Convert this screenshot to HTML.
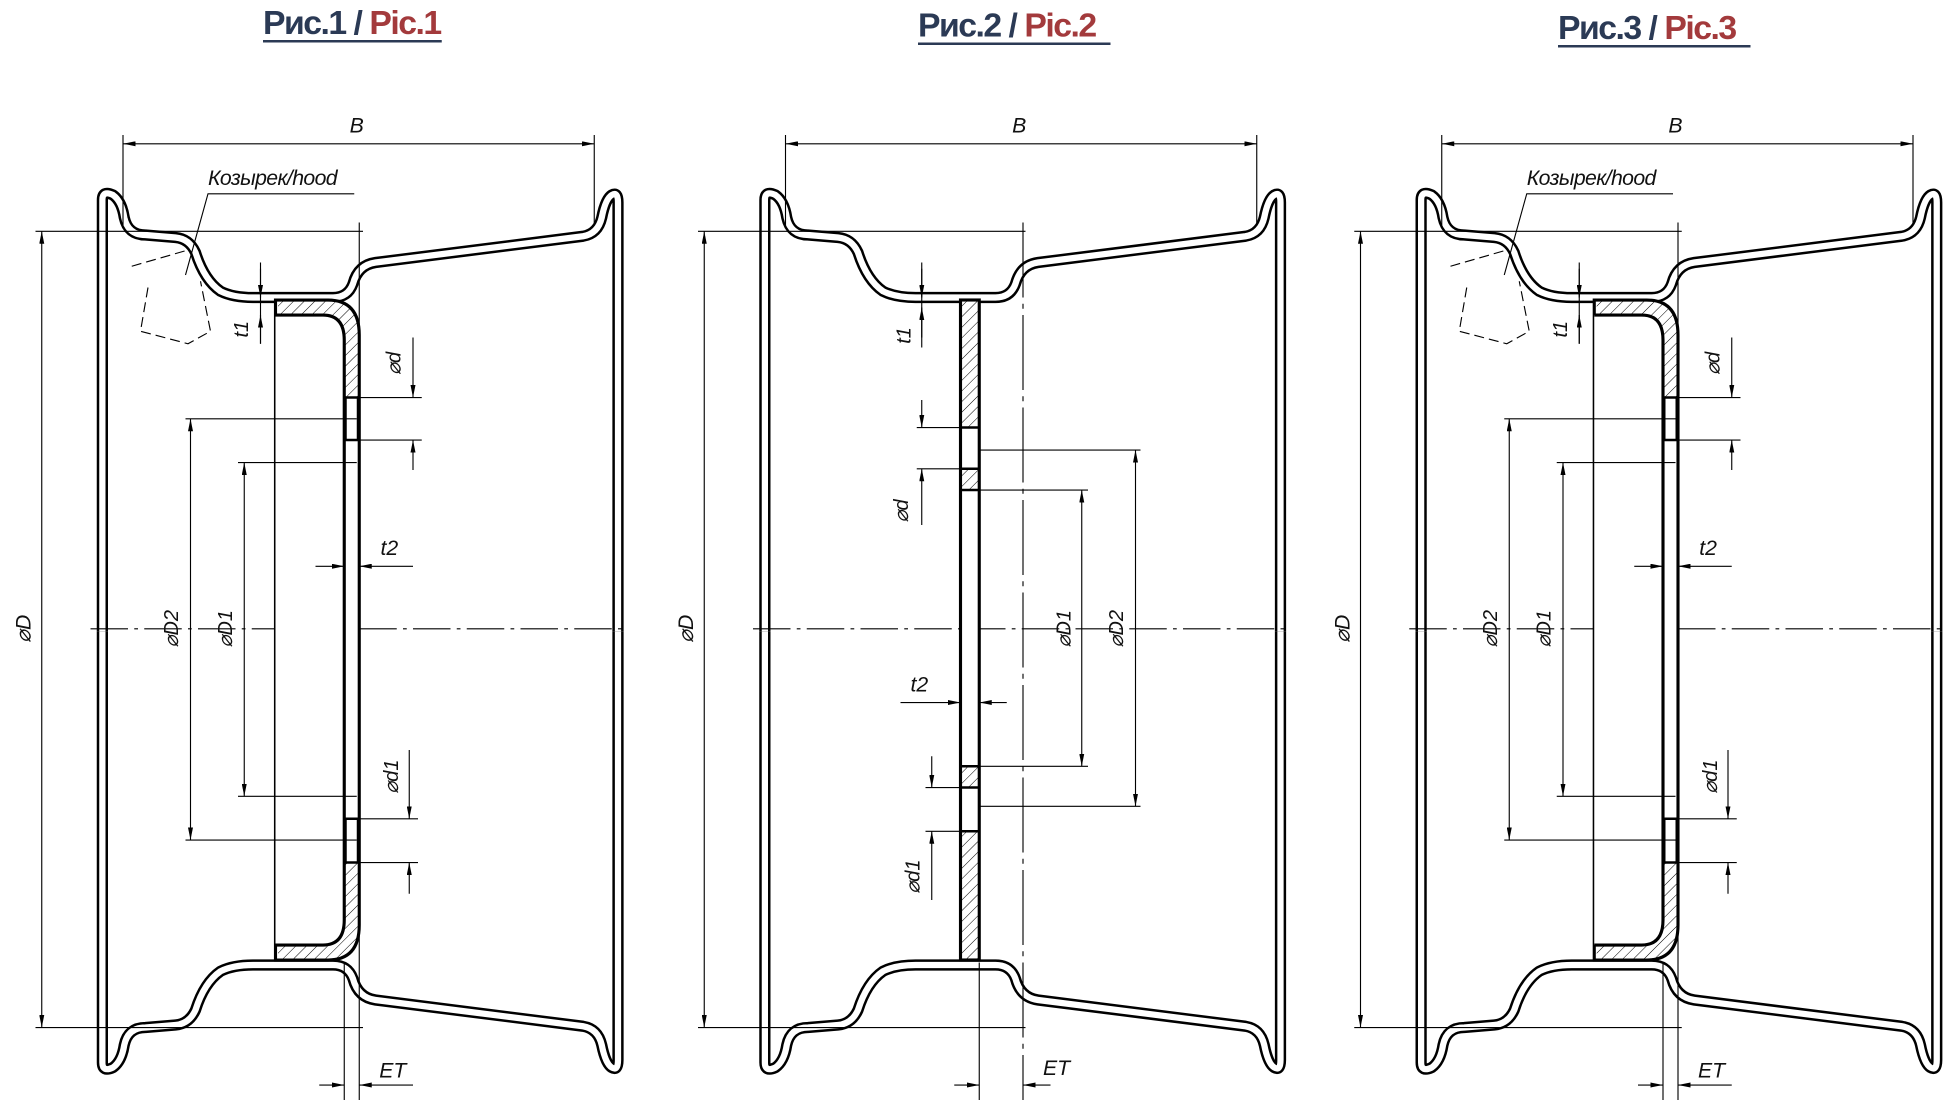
<!DOCTYPE html>
<html><head><meta charset="utf-8"><style>
html,body{margin:0;padding:0;background:#fff;}
svg{display:block}
text{font-family:"Liberation Sans",sans-serif;font-style:italic;fill:#111}
.t{font-style:normal;font-weight:bold;}
</style></head><body>
<svg width="1951" height="1110" viewBox="0 0 1560 888" xmlns="http://www.w3.org/2000/svg">
<defs>
<marker id="a" viewBox="0 0 10 4" refX="10" refY="2" markerWidth="10" markerHeight="4" orient="auto-start-reverse" markerUnits="userSpaceOnUse"><path d="M0,0 L10,2 L0,4z" fill="#000"/></marker>
<pattern id="h" width="6" height="6" patternUnits="userSpaceOnUse" patternTransform="rotate(45)"><line x1="0" y1="0" x2="0" y2="6" stroke="#000" stroke-width="0.8"/></pattern>
<g id="rimhalf">
<path d="M81.5 505 L81.5 160 Q81.5 152 90 156 Q97 161 99 174 Q102 188 116 188 L140 190 Q151 191 156 202 Q163 224 176 233 Q186 238 202 238 L266 238 Q278 238 282 227 Q286 212 300 210 L466 189 Q478 187 481 174 Q484 159 489 156 Q494 153 494 162 L494 505" fill="none" stroke="#000" stroke-width="9" stroke-linejoin="round"/>
<path d="M81.5 505 L81.5 160 Q81.5 152 90 156 Q97 161 99 174 Q102 188 116 188 L140 190 Q151 191 156 202 Q163 224 176 233 Q186 238 202 238 L266 238 Q278 238 282 227 Q286 212 300 210 L466 189 Q478 187 481 174 Q484 159 489 156 Q494 153 494 162 L494 505" fill="none" stroke="#fff" stroke-width="5" stroke-linejoin="round"/>
</g>
<g id="rim" stroke-linecap="butt">
<use href="#rimhalf"/>
<use href="#rimhalf" transform="matrix(1 0 0 -1 0 1010)"/>
<g stroke="#000" stroke-width="0.9" fill="none">
<line x1="98" y1="108" x2="98" y2="180"/>
<line x1="475" y1="108" x2="475" y2="180"/>
<line x1="98" y1="115" x2="475" y2="115" marker-start="url(#a)" marker-end="url(#a)"/>
<line x1="28" y1="185" x2="290" y2="185"/>
<line x1="28" y1="822" x2="290" y2="822"/>
<line x1="33" y1="185" x2="33" y2="822" marker-start="url(#a)" marker-end="url(#a)"/>
<line x1="72" y1="503" x2="502" y2="503" stroke-dasharray="30 5 3 5"/>
</g>
<text x="285" y="106" font-size="17" text-anchor="middle">B</text>
<text transform="translate(24,503) rotate(-90)" font-size="17" text-anchor="middle">⌀D</text>
</g>
<g id="p1">
<use href="#rim"/>
<path d="M220 240 L262 240 Q287 240 287 268 L287 740 Q287 768 262 768 L220 768 Z" fill="#fff" stroke="#000" stroke-width="2.5"/>
<path d="M220 252 L258 252 Q275 252 275 272 L275 736 Q275 756 258 756 L220 756" fill="#fff" stroke="#000" stroke-width="2.5"/>
<path d="M222 241 L262 241 Q286 241 286 268 L286 318 L276 318 L276 272 Q276 251 258 251 L222 251Z" fill="url(#h)"/>
<path d="M222 767 L262 767 Q286 767 286 740 L286 690 L276 690 L276 736 Q276 757 258 757 L222 757Z" fill="url(#h)"/>
<g stroke="#000" stroke-width="2" fill="#fff"><rect x="276" y="318" width="10" height="34"/><rect x="276" y="655" width="10" height="35"/></g>
<g stroke="#000" stroke-width="0.9" fill="none">
<line x1="148" y1="335" x2="285" y2="335"/><line x1="148" y1="672" x2="285" y2="672"/>
<line x1="152" y1="335" x2="152" y2="672" marker-start="url(#a)" marker-end="url(#a)"/>
<line x1="190" y1="370" x2="285" y2="370"/><line x1="190" y1="637" x2="285" y2="637"/>
<line x1="195" y1="370" x2="195" y2="637" marker-start="url(#a)" marker-end="url(#a)"/>
<line x1="208" y1="210" x2="208" y2="275"/>
<line x1="208" y1="215" x2="208" y2="238" marker-end="url(#a)"/><line x1="208" y1="275" x2="208" y2="252" marker-end="url(#a)"/>
<line x1="286" y1="318" x2="337" y2="318"/><line x1="286" y1="352" x2="337" y2="352"/>
<line x1="330" y1="270" x2="330" y2="318" marker-end="url(#a)"/><line x1="330" y1="376" x2="330" y2="352" marker-end="url(#a)"/>
<line x1="286" y1="655" x2="334" y2="655"/><line x1="286" y1="690" x2="334" y2="690"/>
<line x1="327" y1="600" x2="327" y2="655" marker-end="url(#a)"/><line x1="327" y1="715" x2="327" y2="690" marker-end="url(#a)"/>
<line x1="252" y1="453" x2="275" y2="453" marker-end="url(#a)"/><line x1="330" y1="453" x2="287" y2="453" marker-end="url(#a)"/>
<line x1="287" y1="178" x2="287" y2="880"/><line x1="275" y1="770" x2="275" y2="880"/>
<line x1="255" y1="868" x2="275" y2="868" marker-end="url(#a)"/><line x1="330" y1="868" x2="287" y2="868" marker-end="url(#a)"/>
<polyline points="283,155 166,155 148,220"/>
<path d="M105 213 L150 200 M118 230 L112 265 L150 275 L168 265 L160 225" stroke-dasharray="8 4"/>
</g>
<text x="166" y="148" font-size="17" letter-spacing="-0.5">Козырек/hood</text>
<text transform="translate(198,270) rotate(-90)" font-size="16">t1</text>
<text transform="translate(320,300) rotate(-90)" font-size="16">⌀d</text>
<text transform="translate(318,635) rotate(-90)" font-size="16">⌀d1</text>
<text transform="translate(142,503) rotate(-90)" font-size="16" text-anchor="middle">⌀D2</text>
<text transform="translate(185,503) rotate(-90)" font-size="16" text-anchor="middle">⌀D1</text>
<text x="304" y="444" font-size="17">t2</text>
<text x="303" y="862" font-size="17">ET</text>
</g>
</defs>

<use href="#p1"/>
<use href="#p1" transform="translate(1055,0)"/>

<g transform="translate(530,0)">
<use href="#rim"/>
<rect x="238" y="240" width="15" height="528" fill="#fff" stroke="#000" stroke-width="2.5"/>
<rect x="239" y="241" width="13" height="101" fill="url(#h)"/>
<rect x="239" y="665" width="13" height="102" fill="url(#h)"/>
<rect x="239" y="375" width="13" height="17" fill="url(#h)"/>
<rect x="239" y="613" width="13" height="17" fill="url(#h)"/>
<g stroke="#000" stroke-width="2" fill="none"><rect x="238" y="342" width="15" height="50"/><line x1="238" y1="375" x2="253" y2="375"/><rect x="238" y="613" width="15" height="52"/><line x1="238" y1="630" x2="253" y2="630"/></g>
<g stroke="#000" stroke-width="0.9" fill="none">
<line x1="253" y1="360" x2="382" y2="360"/><line x1="253" y1="645" x2="382" y2="645"/>
<line x1="378" y1="360" x2="378" y2="645" marker-start="url(#a)" marker-end="url(#a)"/>
<line x1="253" y1="392" x2="340" y2="392"/><line x1="253" y1="613" x2="340" y2="613"/>
<line x1="335" y1="392" x2="335" y2="613" marker-start="url(#a)" marker-end="url(#a)"/>
<line x1="207" y1="210" x2="207" y2="278"/>
<line x1="207" y1="215" x2="207" y2="238" marker-end="url(#a)"/><line x1="207" y1="270" x2="207" y2="246" marker-end="url(#a)"/>
<line x1="203" y1="342" x2="238" y2="342"/><line x1="203" y1="375" x2="238" y2="375"/>
<line x1="207" y1="320" x2="207" y2="342" marker-end="url(#a)"/><line x1="207" y1="420" x2="207" y2="375" marker-end="url(#a)"/>
<line x1="210" y1="630" x2="238" y2="630"/><line x1="210" y1="665" x2="238" y2="665"/>
<line x1="215" y1="605" x2="215" y2="630" marker-end="url(#a)"/><line x1="215" y1="720" x2="215" y2="665" marker-end="url(#a)"/>
<line x1="190" y1="562" x2="238" y2="562" marker-end="url(#a)"/><line x1="275" y1="562" x2="253" y2="562" marker-end="url(#a)"/>
<line x1="288" y1="178" x2="288" y2="880" stroke-dasharray="60 5 4 5"/><line x1="253" y1="770" x2="253" y2="880"/>
<line x1="233" y1="868" x2="253" y2="868" marker-end="url(#a)"/><line x1="310" y1="868" x2="288" y2="868" marker-end="url(#a)"/>
</g>
<text transform="translate(198,275) rotate(-90)" font-size="16">t1</text>
<text transform="translate(196,418) rotate(-90)" font-size="16">⌀d</text>
<text transform="translate(205,715) rotate(-90)" font-size="16">⌀d1</text>
<text transform="translate(326,503) rotate(-90)" font-size="16" text-anchor="middle">⌀D1</text>
<text transform="translate(368,503) rotate(-90)" font-size="16" text-anchor="middle">⌀D2</text>
<text x="198" y="553" font-size="17">t2</text>
<text x="304" y="860" font-size="17">ET</text>
</g>

<g font-size="27">
<text class="t" x="210" y="27" style="fill:#2b3a55" letter-spacing="-1.2">Рис.1 / <tspan style="fill:#a33a3c">Pic.1</tspan></text>
<text class="t" x="734" y="29" style="fill:#2b3a55" letter-spacing="-1.2">Рис.2 / <tspan style="fill:#a33a3c">Pic.2</tspan></text>
<text class="t" x="1246" y="31" style="fill:#2b3a55" letter-spacing="-1.2">Рис.3 / <tspan style="fill:#a33a3c">Pic.3</tspan></text>
</g>
<g stroke-width="2"><line x1="210" y1="33" x2="353" y2="33" stroke="#2b3a55"/><line x1="734" y1="35" x2="888" y2="35" stroke="#2b3a55"/><line x1="1246" y1="37" x2="1400" y2="37" stroke="#2b3a55"/></g>
</svg>
</body></html>
